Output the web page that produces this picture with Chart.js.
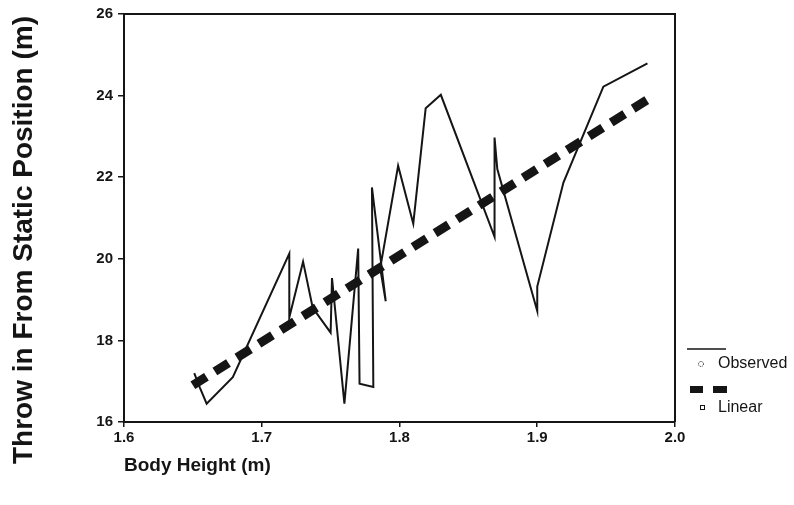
<!DOCTYPE html>
<html>
<head>
<meta charset="utf-8">
<script src="https://cdn.jsdelivr.net/npm/chart.js@4"></script>
<style>
  html, body { margin: 0; padding: 0; background: #fff; }
  #wrap { width: 794px; height: 505px; position: relative; }
</style>
</head>
<body>
<div id="wrap"><canvas id="myChart" width="794" height="505"></canvas></div>
<script>
// observed values, in the order the line is drawn
const heights = [1.651, 1.655, 1.660, 1.679, 1.720, 1.720, 1.730, 1.737, 1.750, 1.751,
                 1.760, 1.770, 1.771, 1.781, 1.780, 1.790, 1.786, 1.799, 1.810, 1.819,
                 1.830, 1.869, 1.869, 1.871, 1.900, 1.900, 1.919, 1.948, 1.980];
const throws  = [17.20, 16.85, 16.45, 17.10, 20.13, 18.56, 19.93, 18.80, 18.19, 19.53,
                 16.45, 20.25, 16.94, 16.86, 21.75, 18.96, 19.77, 22.28, 20.86, 23.69,
                 24.02, 20.54, 22.97, 22.20, 18.72, 19.32, 21.87, 24.22, 24.79];
// linear fit end points
const linHeights = [1.650, 1.980];
const linThrows  = [16.90, 23.90];

const xTicks = [1.6, 1.7, 1.8, 1.9, 2.0];
const yTicks = [16, 18, 20, 22, 24, 26];

const ink = "#151515";

function toPoints(xs, ys) {
  return xs.map(function (x, i) { return {x: x, y: ys[i]}; });
}

// box on top and right, titles and legend
const extras = {
  id: "extras",
  afterDraw: function (chart) {
    const ctx = chart.ctx;
    const a = chart.chartArea;
    ctx.save();
    ctx.strokeStyle = ink;
    ctx.lineWidth = 2;
    ctx.beginPath();
    ctx.moveTo(a.left, a.top);
    ctx.lineTo(a.right, a.top);
    ctx.lineTo(a.right, a.bottom);
    ctx.stroke();

    ctx.fillStyle = ink;
    ctx.font = "bold 19px 'Liberation Sans', Arial, sans-serif";
    ctx.textAlign = "left";
    ctx.textBaseline = "middle";
    ctx.fillText("Body Height (m)", 124, 466);

    ctx.save();
    ctx.translate(24, 240);
    ctx.rotate(-Math.PI / 2);
    ctx.font = "bold 28px 'Liberation Sans', Arial, sans-serif";
    ctx.textAlign = "center";
    ctx.fillText("Throw in From Static Position (m)", 0, 0);
    ctx.restore();

    // legend
    ctx.lineWidth = 1.5;
    ctx.beginPath();
    ctx.moveTo(687, 349);
    ctx.lineTo(726, 349);
    ctx.stroke();
    ctx.lineWidth = 1;
    ctx.setLineDash([1, 1]);
    ctx.beginPath();
    ctx.arc(701, 364, 2.5, 0, Math.PI * 2);
    ctx.stroke();
    ctx.setLineDash([]);
    ctx.fillRect(690, 386, 13, 7);
    ctx.fillRect(713, 386, 14, 7);
    ctx.strokeRect(700.5, 405.5, 4, 4);

    ctx.font = "16px 'Liberation Sans', Arial, sans-serif";
    ctx.textAlign = "left";
    ctx.fillText("Observed", 718, 364);
    ctx.fillText("Linear", 718, 408);
    ctx.restore();
  }
};

new Chart("myChart", {
  type: "line",
  data: {
    datasets: [{
      label: "Observed",
      data: toPoints(heights, throws),
      borderColor: ink,
      borderWidth: 2,
      pointRadius: 0,
      fill: false,
      tension: 0
    }, {
      label: "Linear",
      data: toPoints(linHeights, linThrows),
      borderColor: ink,
      borderWidth: 9,
      borderDash: [16, 10],
      borderCapStyle: "butt",
      pointRadius: 0,
      fill: false
    }]
  },
  options: {
    responsive: false,
    animation: false,
    layout: {padding: {left: 0, right: 119, top: 10, bottom: 0}},
    plugins: {legend: {display: false}, tooltip: {enabled: false}},
    scales: {
      x: {
        type: "linear",
        min: 1.6,
        max: 2.0,
        afterBuildTicks: function (axis) {
          axis.ticks = xTicks.map(function (v) { return {value: v}; });
        },
        afterFit: function (axis) { axis.height = 83; },
        grid: {drawOnChartArea: false, drawTicks: true, tickLength: 5, color: ink, lineWidth: 1.5},
        border: {display: true, color: ink, width: 2},
        ticks: {
          color: ink,
          padding: 2,
          maxRotation: 0,
          font: {family: "'Liberation Sans', Arial, sans-serif", size: 15, weight: "bold"},
          callback: function (v) { return Number(v).toFixed(1); }
        }
      },
      y: {
        type: "linear",
        min: 16,
        max: 26,
        afterBuildTicks: function (axis) {
          axis.ticks = yTicks.map(function (v) { return {value: v}; });
        },
        afterFit: function (axis) { axis.width = 124; },
        grid: {drawOnChartArea: false, drawTicks: true, tickLength: 6, color: ink, lineWidth: 1.5},
        border: {display: true, color: ink, width: 2},
        ticks: {
          color: ink,
          padding: 5,
          font: {family: "'Liberation Sans', Arial, sans-serif", size: 15, weight: "bold"}
        }
      }
    }
  },
  plugins: [extras]
});
</script>
</body>
</html>
